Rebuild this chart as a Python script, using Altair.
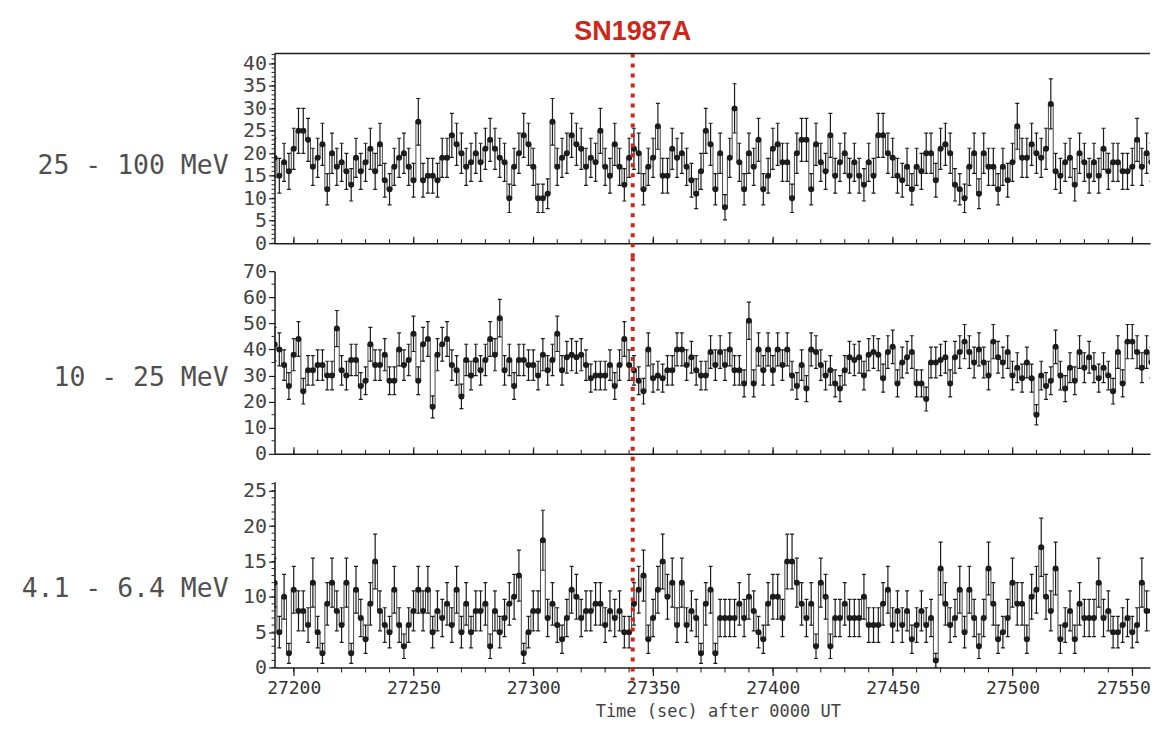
import altair as alt
import pandas as pd

# ---------------- data (counts per 2-second bin) ----------------
T0 = 27192          # start of the first 2 s bin
BIN = 2
T_END = 27557.4     # right end of the visible time window
SN_TIME = 27341.5   # SN1987A marker

counts_25_100 = [
    19,15,18,16,21,25,25,23,17,19,22,12,20,17,18,16,13,19,16,18,21,16,22,14,12,17,19,20,17,14,
    27,14,15,15,14,19,19,24,22,20,17,18,20,18,21,23,21,19,18,10,17,20,24,22,17,10,10,11,27,17,
    19,20,24,22,21,17,19,18,25,17,15,22,17,13,19,21,20,12,17,19,26,15,15,21,19,20,17,14,11,16,
    25,22,12,20,8,19,30,18,12,20,17,23,12,15,21,22,18,18,10,20,23,23,12,22,18,16,24,15,18,20,15,18,
    15,13,18,15,24,24,20,19,15,14,17,12,17,16,20,20,14,21,22,20,13,12,10,17,20,11,20,17,17,12,
    17,14,18,26,19,19,22,20,19,21,31,16,15,18,19,13,20,18,15,18,15,21,16,18,18,16,16,17,23,17,20,18,17,
]
counts_10_25 = [
    42,40,34,26,38,44,24,32,32,34,34,30,30,48,32,30,36,36,26,28,42,34,34,38,28,28,40,34,36,46,
    28,42,44,18,38,42,44,34,32,22,36,30,36,32,36,44,38,52,32,36,26,36,36,34,34,30,38,32,36,46,
    32,37,38,37,38,34,29,30,30,30,34,26,34,44,34,32,28,24,40,29,30,29,32,32,40,40,34,37,32,30,
    30,39,34,39,34,40,32,32,27,51,27,40,32,40,32,40,34,40,30,26,34,25,40,39,34,30,32,27,25,32,37,36,
    37,30,38,39,38,29,39,41,27,35,37,39,27,27,21,35,35,36,37,27,37,39,43,39,35,40,35,30,43,37,
    35,39,30,33,29,35,29,15,30,26,28,41,30,25,33,28,39,33,37,33,29,33,30,24,39,27,43,43,39,33,39,35,38,
]
counts_4_6 = [
    12,5,10,2,11,8,8,6,12,5,2,9,12,8,6,12,2,11,7,4,9,15,8,6,5,11,6,3,6,8,
    11,8,11,5,8,7,9,6,11,5,9,5,8,8,9,3,8,5,7,9,10,13,2,5,8,8,18,7,9,6,
    4,7,11,10,7,8,8,9,9,6,8,7,8,5,5,9,11,13,4,7,11,15,10,12,6,12,6,8,7,2,
    9,11,2,7,7,7,7,9,7,10,8,5,4,9,10,10,7,15,15,12,9,7,9,3,12,10,3,7,7,9,7,7,
    7,10,6,6,6,9,11,6,8,6,8,4,6,8,6,7,1,14,9,6,7,11,5,11,7,3,7,14,9,4,
    5,7,12,9,9,4,10,11,17,10,8,14,4,6,8,4,9,7,7,7,12,7,8,5,5,6,7,5,6,12,8,8,7,
]

panel_labels = ["25 - 100 MeV", "10 - 25 MeV", "4.1 - 6.4 MeV"]
x_major = [27200, 27250, 27300, 27350, 27400, 27450, 27500, 27550]
x_minor = list(range(27200, 27560, 10))
y1_major = [0, 5, 10, 15, 20, 25, 30, 35, 40]
y1_minor = list(range(0, 43, 1))
y2_major = [0, 10, 20, 30, 40, 50, 60, 70]
y2_minor = [5, 15, 25, 35, 45, 55, 65]
y3_major = [0, 5, 10, 15, 20, 25]
y3_minor = list(range(0, 27, 1))

# ---------------- styling ----------------
W = 877
INK = "#1c1c1c"
RED = "#d0261a"
MONO = "DejaVu Sans Mono"


def make_panel(counts, ymax, H, y_major, y_minor, label, label_y, first=False, last=False):
    df = pd.DataFrame({"t": [T0 + BIN * i for i in range(len(counts))], "c": counts})
    xscale = alt.Scale(domain=[T0, T_END], nice=False, zero=False)
    yscale = alt.Scale(domain=[0, ymax], nice=False, zero=True)

    if last:
        xaxis = alt.Axis(values=x_major, format="d", orient="bottom", tickSize=8, tickWidth=1.2,
                         tickColor=INK, domainColor=INK, domainWidth=1.5, grid=False,
                         labelPadding=4, labelFont=MONO, labelFontSize=18, labelColor="#333",
                         labelFlush=18.5, labelFlushOffset=18,
                         title="Time (sec) after 0000 UT", titleFont=MONO, titleFontSize=17,
                         titleFontWeight="normal", titleColor="#444", titlePadding=6, titleX=444)
    else:
        xaxis = alt.Axis(values=x_major, format="d", orient="top", offset=-H, tickSize=7,
                         tickWidth=1.2, tickColor=INK, domainColor=INK, domainWidth=1.5,
                         grid=False, labels=False, title="")

    yaxis = alt.Axis(values=y_major, format="d", tickSize=6, tickWidth=1.2, tickColor=INK,
                     domainColor=INK, domainWidth=1.5, grid=False, labelPadding=2,
                     labelFont=MONO, labelFontSize=20, labelColor="#444", title="")

    def X(field="t"):
        return alt.X(f"{field}:Q", scale=xscale, axis=xaxis)

    def Y(field):
        return alt.Y(f"{field}:Q", scale=yscale, axis=yaxis)

    base = alt.Chart(df).transform_calculate(
        lo="datum.c - sqrt(datum.c)", hi="datum.c + sqrt(datum.c)"
    )

    steps = base.mark_line(interpolate="step", color="#333", strokeWidth=0.9, clip=True).encode(
        x=X(), y=Y("c"))
    bars = base.mark_rule(color=INK, strokeWidth=1.2, clip=True).encode(
        x=X(), y=Y("lo"), y2="hi:Q")
    cap_hi = base.mark_tick(orient="horizontal", size=4, thickness=1.2, color=INK,
                            opacity=1, clip=True).encode(x=X(), y=Y("hi"))
    cap_lo = base.mark_tick(orient="horizontal", size=4, thickness=1.2, color=INK,
                            opacity=1, clip=True).encode(x=X(), y=Y("lo"))
    pts = base.mark_circle(size=36, color=INK, opacity=1, clip=True).encode(
        x=X(), y=Y("c"))

    ymin_ticks = alt.Chart(pd.DataFrame({"v": y_minor})).mark_rule(
        color=INK, strokeWidth=1).encode(y=Y("v"), x=alt.value(-3), x2=alt.value(0))
    if last:
        xm = alt.Chart(pd.DataFrame({"t": x_minor})).mark_rule(color=INK, strokeWidth=1).encode(
            x=X(), y=alt.value(H), y2=alt.value(H + 5))
    else:
        xm = alt.Chart(pd.DataFrame({"t": x_minor})).mark_rule(color=INK, strokeWidth=1).encode(
            x=X(), y=alt.value(H), y2=alt.value(H - 4))

    y_top = 0 if first else -14
    y_bot = H + 13 if last else H + 14
    sn_line = alt.Chart(pd.DataFrame({"t": [SN_TIME]})).mark_rule(
        color=RED, strokeWidth=4, strokeDash=[4, 6]).encode(
        x=X(), y=alt.value(y_top), y2=alt.value(y_bot))

    lab = alt.Chart(pd.DataFrame({"label": [label]})).mark_text(
        align="right", baseline="middle", font=MONO, fontSize=26.5, color="#505050"
    ).encode(text="label:N", x=alt.value(-46), y=alt.value(label_y))

    layers = [steps, bars, cap_hi, cap_lo, pts, ymin_ticks, xm, lab, sn_line]

    if first:
        one = pd.DataFrame({"a": [0]})
        top_border = alt.Chart(one).mark_rule(color=INK, strokeWidth=1.5).encode(
            x=alt.value(0), x2=alt.value(W), y=alt.value(0))
        sn_text = alt.Chart(pd.DataFrame({"t": [SN_TIME], "name": ["SN1987A"]})).mark_text(
            align="center", baseline="middle", font="Liberation Sans", fontWeight="bold",
            fontSize=27, color=RED).encode(x=X(), y=alt.value(-22), text="name:N")
        # white anchors fixing the outer extent of the figure
        anchor_left = alt.Chart(one).mark_rule(color="white", strokeWidth=1).encode(
            x=alt.value(-266), x2=alt.value(-262), y=alt.value(0))
        anchor_top = alt.Chart(one).mark_rule(color="white", strokeWidth=1).encode(
            x=alt.value(2), y=alt.value(-44), y2=alt.value(-40))
        layers = layers + [top_border, sn_text, anchor_left, anchor_top]

    return alt.layer(*layers).properties(width=W, height=H)


p1 = make_panel(counts_25_100, 42.2, 190, y1_major, y1_minor, panel_labels[0], 113, first=True)
p2 = make_panel(counts_10_25, 70, 183, y2_major, y2_minor, panel_labels[1], 107)
p3 = make_panel(counts_4_6, 26.27, 186, y3_major, y3_minor, panel_labels[2], 107, last=True)

chart = alt.vconcat(p1, p2, p3, spacing=28, bounds="flush").properties(
    padding=0
).configure_view(stroke=None)

chart.save("out.html", embed_options={"renderer": "svg", "actions": False})
